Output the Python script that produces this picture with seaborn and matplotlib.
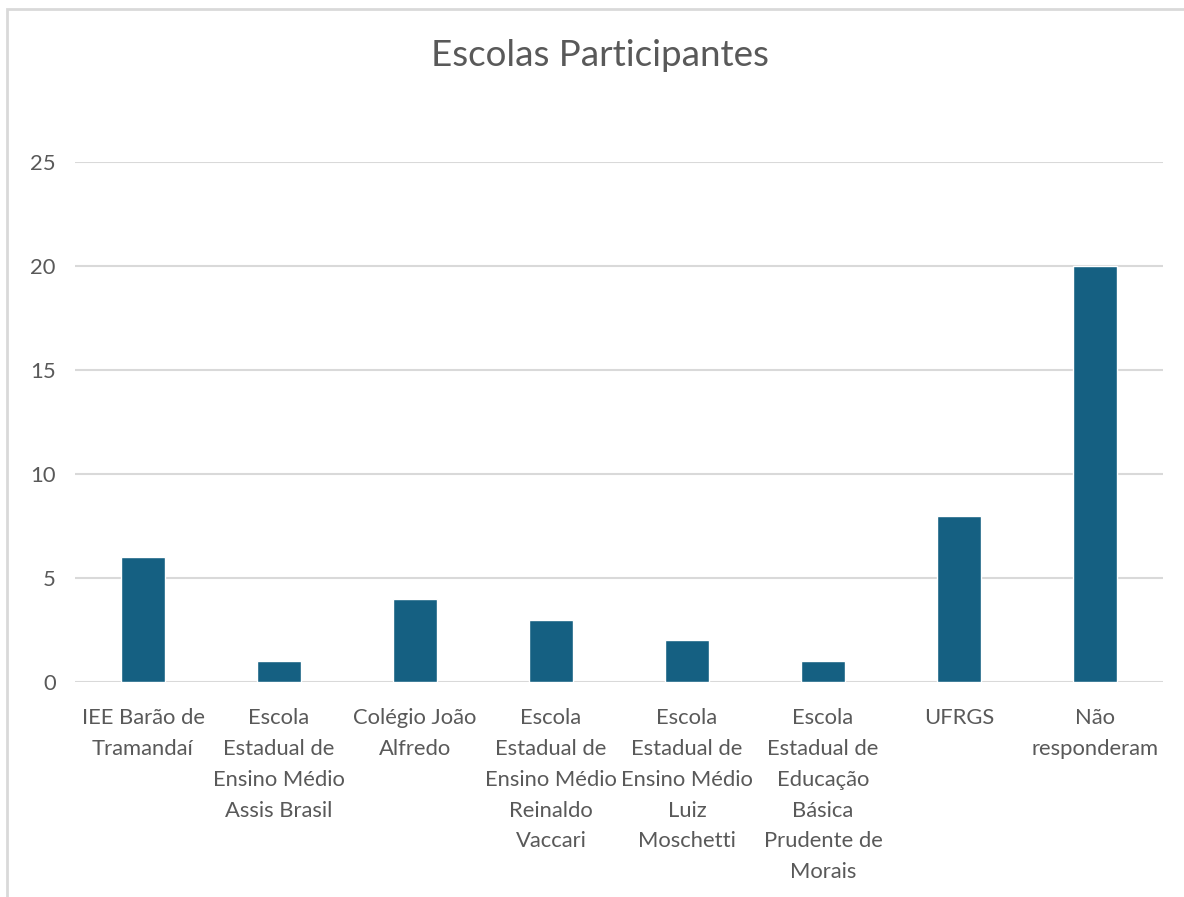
import matplotlib
matplotlib.use("Agg")
import matplotlib.pyplot as plt
import seaborn as sns
import pandas as pd
from matplotlib.patches import Rectangle

categories = [
    "IEE Barão de\nTramandaí",
    "Escola\nEstadual de\nEnsino Médio\nAssis Brasil",
    "Colégio João\nAlfredo",
    "Escola\nEstadual de\nEnsino Médio\nReinaldo\nVaccari",
    "Escola\nEstadual de\nEnsino Médio\nLuiz\nMoschetti",
    "Escola\nEstadual de\nEducação\nBásica\nPrudente de\nMorais",
    "UFRGS",
    "Não\nresponderam",
]
values = [6, 1, 4, 3, 2, 1, 8, 20]
yticks = [0, 5, 10, 15, 20, 25]

sns.set_theme(style="white")
plt.rcParams['font.family'] = ['Lato', 'DejaVu Sans']

df = pd.DataFrame({"escola": categories, "n": values})

fig = plt.figure(figsize=(11.84, 8.97), dpi=100)
ax = fig.add_axes([75/1184, 1 - 682/897, (1163-75)/1184, (682-162)/897])

sns.barplot(data=df, x="escola", y="n", color="#156082", width=0.32,
            saturation=1, ax=ax, zorder=3)

ax.set_ylim(0, 25)
ax.set_yticks(yticks)
ax.set_yticklabels([str(t) for t in yticks])
ax.set_xlim(-0.5, len(categories) - 0.5)
ax.yaxis.grid(True, color="#d9d9d9", linewidth=1.5, zorder=0)
ax.xaxis.grid(False)
for s in ax.spines.values():
    s.set_visible(False)
ax.set_xlabel("")
ax.set_ylabel("")
ax.tick_params(axis="both", length=0, colors="#595959", labelsize=15.8)
ax.tick_params(axis="y", pad=14)
ax.tick_params(axis="x", pad=19)
for lbl in ax.get_xticklabels():
    lbl.set_linespacing(1.67)
    lbl.set_verticalalignment("top")

fig.text(600/1184, 1 - 55/897, "Escolas Participantes", ha="center", va="center",
         fontsize=26.5, color="#595959")

fig.patches.append(Rectangle((7/1184, -0.1), 1.2, 1 - 9/897 + 0.1,
                             transform=fig.transFigure, fill=False,
                             edgecolor="#d9d9d9", linewidth=2))

fig.savefig("out.png", dpi=100, facecolor="white")
